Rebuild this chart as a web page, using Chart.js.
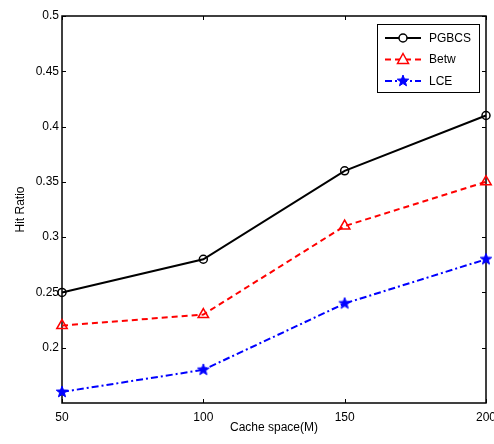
<!DOCTYPE html>
<html lang="en">

<head>
  <meta charset="UTF-8" />
  <title>Hit Ratio vs Cache space</title>
  <script src="https://cdn.jsdelivr.net/npm/chart.js"></script>
  <style>
    body { margin: 0; background: #fff; }
    #wrap { width: 494px; height: 444px; }
  </style>
</head>

<body>
  <div id="wrap">
    <canvas id="hitChart" width="494" height="444"></canvas>
  </div>

  <script>
    // data
    const cacheSpace = [50, 100, 150, 200];
    const pgbcs = [0.25, 0.28, 0.36, 0.41];
    const betw = [0.22, 0.23, 0.31, 0.35];
    const lce = [0.16, 0.18, 0.24, 0.28];
    const seriesNames = ["PGBCS", "Betw", "LCE"];
    const yTickLabels = [0.2, 0.25, 0.3, 0.35, 0.4, 0.45, 0.5];

    const FONT = "'Liberation Sans', Arial, sans-serif";

    // pentagram marker like matlab's 'p'
    function makeStar(color, r) {
      const c = document.createElement('canvas');
      const size = r * 2 + 2;
      c.width = size; c.height = size;
      const g = c.getContext('2d');
      g.beginPath();
      for (let i = 0; i < 10; i++) {
        const rad = i % 2 === 0 ? r : r * 0.42;
        const a = -Math.PI / 2 + i * Math.PI / 5;
        const px = size / 2 + rad * Math.cos(a), py = size / 2 + rad * Math.sin(a);
        i === 0 ? g.moveTo(px, py) : g.lineTo(px, py);
      }
      g.closePath();
      g.fillStyle = color;
      g.fill();
      g.strokeStyle = color;
      g.lineWidth = 1;
      g.stroke();
      return c;
    }
    const starImg = makeStar('#0000ff', 6);

    const toPts = arr => arr.map((v, i) => ({ x: cacheSpace[i], y: v }));

    // box + inward ticks on all four sides
    const framePlugin = {
      id: 'frame',
      beforeDatasetsDraw(chart) {
        const { ctx, chartArea: a, scales } = chart;
        ctx.save();
        ctx.strokeStyle = '#000';
        ctx.lineWidth = 1;
        const t = 4;
        ctx.beginPath();
        cacheSpace.forEach(v => {
          const px = Math.round(scales.x.getPixelForValue(v)) + 0.5;
          ctx.moveTo(px, a.bottom); ctx.lineTo(px, a.bottom - t);
          ctx.moveTo(px, a.top); ctx.lineTo(px, a.top + t);
        });
        yTickLabels.forEach(v => {
          const py = Math.round(scales.y.getPixelForValue(v)) + 0.5;
          ctx.moveTo(a.left, py); ctx.lineTo(a.left + t, py);
          ctx.moveTo(a.right, py); ctx.lineTo(a.right - t, py);
        });
        ctx.stroke();
        ctx.lineWidth = 1.5;
        ctx.strokeRect(a.left, a.top, a.right - a.left, a.bottom - a.top);
        ctx.restore();
      }
    };

    // matlab style legend box in the upper right
    const legendPlugin = {
      id: 'matLegend',
      afterDraw(chart) {
        const ctx = chart.ctx;
        const bx = 377, by = 24, bw = 102, bh = 68;
        ctx.save();
        ctx.fillStyle = '#fff';
        ctx.fillRect(bx, by, bw, bh);
        ctx.strokeStyle = '#000';
        ctx.lineWidth = 1;
        ctx.strokeRect(bx + 0.5, by + 0.5, bw, bh);
        ctx.font = '12px ' + FONT;
        ctx.textBaseline = 'middle';
        chart.data.datasets.forEach((ds, i) => {
          const y = by + 14 + i * 21.5;
          ctx.strokeStyle = ds.borderColor;
          ctx.lineWidth = ds.borderWidth;
          ctx.setLineDash(ds.borderDash || []);
          ctx.beginPath();
          ctx.moveTo(bx + 8, y);
          ctx.lineTo(bx + 44, y);
          ctx.stroke();
          ctx.setLineDash([]);
          const mx = bx + 26;
          if (ds.pointStyle === 'circle') {
            ctx.lineWidth = 1.5;
            ctx.beginPath();
            ctx.arc(mx, y, 4, 0, Math.PI * 2);
            ctx.fillStyle = '#fff';
            ctx.fill();
            ctx.stroke();
          } else if (ds.pointStyle === 'triangle') {
            ctx.lineWidth = 1.5;
            ctx.beginPath();
            ctx.moveTo(mx, y - 6);
            ctx.lineTo(mx + 5.5, y + 4);
            ctx.lineTo(mx - 5.5, y + 4);
            ctx.closePath();
            ctx.fillStyle = '#fff';
            ctx.fill();
            ctx.stroke();
          } else {
            ctx.drawImage(starImg, mx - starImg.width / 2, y - starImg.height / 2);
          }
          ctx.fillStyle = '#000';
          ctx.fillText(ds.label, bx + 52, y + 0.5);
        });
        ctx.restore();
      }
    };

    new Chart(document.getElementById('hitChart'), {
      type: 'line',
      data: {
        datasets: [{
          label: seriesNames[0],
          data: toPts(pgbcs),
          borderColor: '#000',
          borderWidth: 2,
          pointStyle: 'circle',
          pointRadius: 4,
          pointBorderWidth: 1.5,
          pointBackgroundColor: 'rgba(0,0,0,0)',
          pointBorderColor: '#000',
          clip: false
        }, {
          label: seriesNames[1],
          data: toPts(betw),
          borderColor: '#ff0000',
          borderWidth: 2,
          borderDash: [6, 4],
          pointStyle: 'triangle',
          pointRadius: 6,
          pointBorderWidth: 1.5,
          pointBackgroundColor: 'rgba(0,0,0,0)',
          pointBorderColor: '#ff0000',
          clip: false
        }, {
          label: seriesNames[2],
          data: toPts(lce),
          borderColor: '#0000ff',
          borderWidth: 2,
          borderDash: [7, 3, 2, 3],
          pointStyle: starImg,
          pointRadius: 6,
          clip: false
        }]
      },
      options: {
        responsive: false,
        animation: false,
        layout: { padding: { top: 16, right: 8, left: 0, bottom: 0 } },
        plugins: { legend: { display: false }, tooltip: { enabled: false } },
        scales: {
          x: {
            type: 'linear',
            min: 50,
            max: 200,
            grid: { display: false, drawTicks: false },
            border: { display: false },
            ticks: {
              stepSize: 50,
              padding: 7,
              color: '#000',
              font: { family: FONT, size: 12 },
              maxRotation: 0
            },
            title: {
              display: true,
              text: 'Cache space(M)',
              color: '#000',
              font: { family: FONT, size: 12 },
              padding: { top: 0, bottom: 9 }
            },
            afterFit(s) { s.height = 41; s.paddingLeft = 0; s.paddingRight = 0; }
          },
          y: {
            min: 0.15,
            max: 0.5,
            grid: { display: false, drawTicks: false },
            border: { display: false },
            ticks: {
              stepSize: 0.05,
              padding: 3,
              color: '#000',
              font: { family: FONT, size: 12 },
              callback: v => yTickLabels.some(t => Math.abs(t - v) < 1e-6) ? String(+v.toFixed(2)) : ''
            },
            title: {
              display: true,
              text: 'Hit Ratio',
              color: '#000',
              font: { family: FONT, size: 12 },
              padding: { top: 13, bottom: 0 }
            },
            afterFit(s) { s.width = 62; }
          }
        }
      },
      plugins: [framePlugin, legendPlugin]
    });
  </script>
</body>

</html>
